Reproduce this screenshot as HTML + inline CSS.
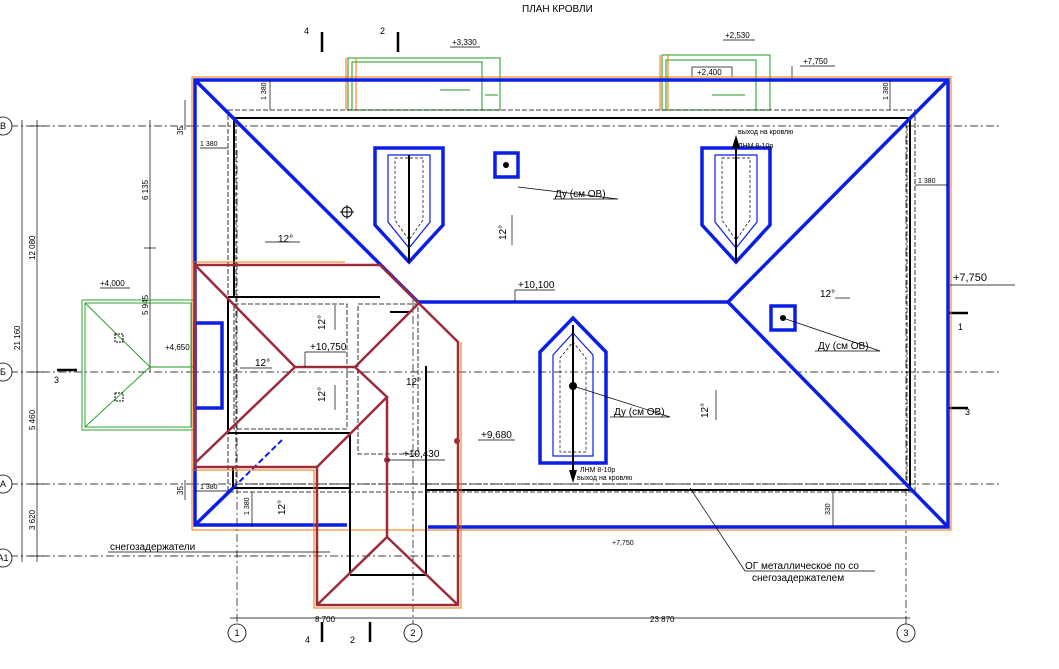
<!DOCTYPE html>
<html><head><meta charset="utf-8"><style>
html,body{margin:0;padding:0;background:#fff}
svg{display:block}
text{font-family:"Liberation Sans",sans-serif;fill:#000}
</style></head><body>
<svg width="1059" height="669" viewBox="0 0 1059 669" xmlns="http://www.w3.org/2000/svg">
<text x="522" y="12" font-size="10">ПЛАН КРОВЛИ</text>

<g stroke="#000" stroke-width="0.7" stroke-dasharray="8,3,2,3" fill="none">
<line x1="10" y1="126" x2="1000" y2="126"/>
<line x1="10" y1="372" x2="1000" y2="372"/>
<line x1="10" y1="484" x2="1000" y2="484"/>
<line x1="10" y1="556" x2="460" y2="556"/>
<line x1="237" y1="150" x2="237" y2="630"/>
<line x1="413" y1="300" x2="413" y2="630"/>
<line x1="906" y1="120" x2="906" y2="630"/>
</g>
<g fill="#fff" stroke="#000" stroke-width="0.8">
<circle cx="3" cy="126" r="9"/><circle cx="3" cy="372" r="9"/><circle cx="3" cy="484" r="9"/><circle cx="3" cy="558" r="9"/>
<circle cx="237" cy="633" r="9"/><circle cx="413" cy="633" r="9"/><circle cx="906" cy="633" r="9"/>
</g>
<g font-size="9" text-anchor="middle">
<text x="3" y="129">В</text><text x="3" y="375">Б</text><text x="3" y="487">А</text><text x="3" y="561">А1</text>
<text x="237" y="636">1</text><text x="413" y="636">2</text><text x="906" y="636">3</text>
</g>
<g stroke="#000" stroke-width="0.7">
<line x1="37" y1="120" x2="37" y2="562"/>
<line x1="22" y1="120" x2="22" y2="562"/>
<line x1="150" y1="120" x2="150" y2="372"/>
<line x1="185" y1="100" x2="185" y2="130"/>
<line x1="185" y1="480" x2="185" y2="500"/>
<line x1="230" y1="618" x2="910" y2="618"/>
<line x1="30" y1="126" x2="44" y2="126"/><line x1="30" y1="372" x2="44" y2="372"/><line x1="30" y1="484" x2="44" y2="484"/><line x1="30" y1="556" x2="44" y2="556"/>
<line x1="144" y1="248" x2="156" y2="248"/>
</g>
<g font-size="8">
<text transform="translate(35,260) rotate(-90)">12 080</text>
<text transform="translate(20,350) rotate(-90)">21 160</text>
<text transform="translate(35,430) rotate(-90)">5 460</text>
<text transform="translate(35,530) rotate(-90)">3 620</text>
<text transform="translate(148,200) rotate(-90)">6 135</text>
<text transform="translate(148,315) rotate(-90)">5 945</text>
<text transform="translate(183,135) rotate(-90)">35</text>
<text transform="translate(183,495) rotate(-90)">35</text>
<text x="315" y="622">8 700</text><text x="650" y="622">23 870</text>
</g>

<g stroke="#000" stroke-width="2.5"><line x1="322" y1="32" x2="322" y2="52"/><line x1="398" y1="32" x2="398" y2="52"/><line x1="322" y1="622" x2="322" y2="642"/><line x1="370" y1="622" x2="370" y2="642"/><line x1="57" y1="370" x2="77" y2="370"/><line x1="948" y1="313" x2="968" y2="313"/><line x1="948" y1="408" x2="968" y2="408"/></g>
<g font-size="9"><text x="304" y="34">4</text><text x="380" y="34">2</text><text x="305" y="643">4</text><text x="350" y="643">2</text><text x="54" y="383">3</text><text x="958" y="330">1</text><text x="965" y="415">3</text></g>

<g fill="none" stroke="#1a9a1a" stroke-width="1">
<rect x="348" y="58" width="152" height="52"/><rect x="352" y="62" width="130" height="48"/>
<rect x="662" y="55" width="108" height="55"/><rect x="666" y="60" width="90" height="50"/>
<line x1="440" y1="90" x2="470" y2="90"/><line x1="485" y1="95" x2="498" y2="95"/>
<line x1="712" y1="95" x2="745" y2="95"/>
</g>
<g stroke="#f07000" stroke-width="1" fill="none"><line x1="346" y1="58" x2="346" y2="110"/><line x1="356" y1="58" x2="356" y2="110"/><line x1="660" y1="55" x2="660" y2="110"/><line x1="668" y1="55" x2="668" y2="110"/></g>
<rect x="692" y="67" width="40" height="10" fill="#fff" stroke="#000" stroke-width="0.7"/>
<g font-size="8"><text x="452" y="45">+3,330</text><text x="725" y="38">+2,530</text><text x="697" y="75">+2,400</text><text x="803" y="64">+7,750</text></g>
<g stroke="#000" stroke-width="0.7"><line x1="450" y1="47" x2="480" y2="47"/><line x1="723" y1="40" x2="755" y2="40"/><line x1="800" y1="66" x2="835" y2="66"/><line x1="792" y1="66" x2="792" y2="80"/></g>

<g fill="none" stroke="#1a9a1a" stroke-width="0.9">
<rect x="82" y="300" width="112" height="130"/><rect x="85" y="303" width="106" height="124"/>
<line x1="85" y1="303" x2="150" y2="367"/><line x1="85" y1="427" x2="150" y2="367"/><line x1="150" y1="367" x2="194" y2="367"/>
</g>
<g font-size="8"><text x="100" y="286">+4,000</text><text x="165" y="350">+4,650</text></g>
<rect x="115" y="334" width="8" height="8" fill="none" stroke="#000" stroke-dasharray="2,1"/><rect x="115" y="393" width="8" height="8" fill="none" stroke="#000" stroke-dasharray="2,1"/>

<rect x="192" y="77" width="759" height="453" fill="none" stroke="#f07000" stroke-width="1"/>
<g fill="none" stroke="#000" stroke-width="0.8" stroke-dasharray="5,2">
<rect x="228" y="110" width="687" height="382"/>
<rect x="236" y="118" width="671" height="366"/>
<rect x="234" y="304" width="113" height="125"/>
<rect x="358" y="304" width="60" height="150"/>
</g>
<g fill="none" stroke="#000" stroke-width="2">
<line x1="234" y1="118" x2="234" y2="297"/><line x1="234" y1="118" x2="910" y2="118"/><line x1="910" y1="118" x2="910" y2="490"/><line x1="426" y1="490" x2="910" y2="490"/>
<line x1="228" y1="297" x2="380" y2="297"/><line x1="228" y1="297" x2="228" y2="433"/><line x1="228" y1="433" x2="350" y2="433"/>
<line x1="350" y1="433" x2="350" y2="575"/><line x1="426" y1="366" x2="426" y2="575"/><line x1="350" y1="575" x2="426" y2="575"/>
<line x1="233" y1="488" x2="350" y2="488"/><line x1="233" y1="467" x2="233" y2="488"/>
</g>

<g fill="none" stroke="#0a1ee6" stroke-width="3.5">
<path d="M347 525 H195 V80 H948 V527 H428"/>
<line x1="195" y1="80" x2="418" y2="302"/><line x1="948" y1="80" x2="728" y2="302"/><line x1="948" y1="527" x2="728" y2="302"/>
<line x1="418" y1="302" x2="728" y2="302"/>
<line x1="195" y1="525" x2="233" y2="488"/>
<rect x="195" y="323" width="27" height="85"/>
<path d="M375 148 H443 V225 L409 262 L375 225 Z"/>
<path d="M702 148 H770 V225 L736 262 L702 225 Z"/>
<path d="M540 352 L573 318 L606 352 V463 H540 Z"/>
<rect x="495" y="153" width="23" height="24"/>
<rect x="771" y="306" width="24" height="24"/>
</g>
<line x1="233" y1="488" x2="282" y2="440" stroke="#0a1ee6" stroke-width="2" stroke-dasharray="6,3"/>
<g fill="none" stroke="#0a1ee6" stroke-width="1.2">
<path d="M388 155 H430 V222 L409 248 L388 222 Z"/>
<path d="M715 155 H757 V222 L736 248 L715 222 Z"/>
<path d="M553 355 L573 333 L593 355 V456 H553 Z"/>
</g>
<g fill="none" stroke="#000" stroke-width="0.7" stroke-dasharray="3,2">
<path d="M395 158 H423 V220 L409 240 L395 220 Z"/>
<path d="M722 158 H750 V220 L736 240 L722 220 Z"/>
<path d="M560 358 L573 342 L586 358 V452 H560 Z"/>
</g>
<g stroke="#000" stroke-width="2"><line x1="409" y1="155" x2="409" y2="262"/><line x1="736" y1="140" x2="736" y2="262"/><line x1="573" y1="325" x2="573" y2="470"/><line x1="390" y1="312" x2="410" y2="312"/></g>
<polygon points="732,148 740,148 736,135" fill="#000"/><polygon points="569,470 577,470 573,483" fill="#000"/>
<circle cx="506" cy="165" r="3" fill="#000"/><circle cx="783" cy="318" r="3" fill="#000"/><circle cx="573" cy="386" r="4" fill="#000"/>
<circle cx="347" cy="212" r="5" fill="none" stroke="#000"/><line x1="340" y1="212" x2="354" y2="212" stroke="#000"/><line x1="347" y1="205" x2="347" y2="219" stroke="#000"/>

<g fill="none" stroke="#f07000" stroke-width="1"><path d="M192 262 H345 M192 262 V470 H314 V608 H461 V342"/></g>
<g fill="none" stroke="#9b2c3c" stroke-width="2.5">
<path d="M195 265 H380 L458 342 V605 H317 V467 H195 Z"/>
<path d="M195 265 L295 367 H355 L419 303"/>
<path d="M295 367 L195 463"/>
<path d="M355 367 L387 397 L317 467"/>
<path d="M387 397 V537 L317 605 M387 537 L458 605"/>
</g>
<circle cx="387" cy="460" r="3" fill="#9b2c3c"/><circle cx="457" cy="441" r="3" fill="#9b2c3c"/>

<g font-size="10">
<text x="278" y="242">12°</text><text x="820" y="297">12°</text><text x="255" y="366">12°</text><text x="406" y="385">12°</text>
<text transform="translate(506,240) rotate(-90)">12°</text>
<text transform="translate(325,330) rotate(-90)">12°</text>
<text transform="translate(325,402) rotate(-90)">12°</text>
<text transform="translate(285,515) rotate(-90)">12°</text>
<text transform="translate(708,418) rotate(-90)">12°</text>
<text x="555" y="197">Ду (см ОВ)</text><text x="818" y="349">Ду (см ОВ)</text><text x="614" y="415">Ду (см ОВ)</text>
<text x="518" y="288">+10,100</text><text x="310" y="350">+10,750</text><text x="403" y="457">+10,430</text><text x="481" y="438">+9,680</text>
<text x="953" y="281" font-size="11">+7,750</text>
<text x="110" y="550">снегозадержатели</text>
<text x="745" y="569">ОГ металлическое по со</text><text x="752" y="581">снегозадержателем</text>
</g>
<g font-size="7"><text x="738" y="134">выход на кровлю</text><text x="738" y="148">ЛНМ 8-10р</text><text x="580" y="472">ЛНМ 8-10р</text><text x="577" y="480">выход на кровлю</text>
<text x="200" y="146">1 380</text><text x="918" y="183">1 380</text><text x="200" y="489">1 380</text><text x="612" y="545">+7,750</text>
<text transform="translate(266,100) rotate(-90)">1 380</text><text transform="translate(888,100) rotate(-90)">1 380</text>
<text transform="translate(249,515) rotate(-90)">1 380</text><text transform="translate(830,515) rotate(-90)">330</text></g>
<g stroke="#000" stroke-width="0.7" fill="none">
<line x1="518" y1="187" x2="618" y2="199"/><line x1="553" y1="199" x2="618" y2="199"/>
<line x1="783" y1="318" x2="880" y2="351"/><line x1="815" y1="351" x2="880" y2="351"/>
<line x1="573" y1="386" x2="670" y2="417"/><line x1="610" y1="417" x2="670" y2="417"/>
<line x1="950" y1="285" x2="1015" y2="285"/>
<line x1="515" y1="290" x2="555" y2="290"/><line x1="515" y1="290" x2="515" y2="302"/>
<line x1="478" y1="440" x2="515" y2="440"/>
<line x1="387" y1="460" x2="445" y2="460"/>
<line x1="305" y1="352" x2="346" y2="352"/><line x1="305" y1="352" x2="305" y2="367"/>
<line x1="108" y1="552" x2="330" y2="552"/>
<line x1="690" y1="488" x2="745" y2="571"/><line x1="745" y1="571" x2="875" y2="571"/>
<line x1="100" y1="288" x2="130" y2="288"/>
<line x1="200" y1="148" x2="228" y2="148"/><line x1="915" y1="185" x2="948" y2="185"/><line x1="195" y1="491" x2="228" y2="491"/>
<line x1="270" y1="80" x2="270" y2="110"/><line x1="890" y1="80" x2="890" y2="110"/><line x1="252" y1="492" x2="252" y2="527"/><line x1="833" y1="492" x2="833" y2="527"/>
<line x1="265" y1="242" x2="300" y2="242"/><line x1="835" y1="298" x2="850" y2="298"/><line x1="240" y1="368" x2="272" y2="368"/>
<line x1="512" y1="215" x2="512" y2="245"/><line x1="335" y1="305" x2="335" y2="330"/><line x1="335" y1="385" x2="335" y2="410"/><line x1="716" y1="390" x2="716" y2="420"/>
</g>
</svg>
</body></html>
